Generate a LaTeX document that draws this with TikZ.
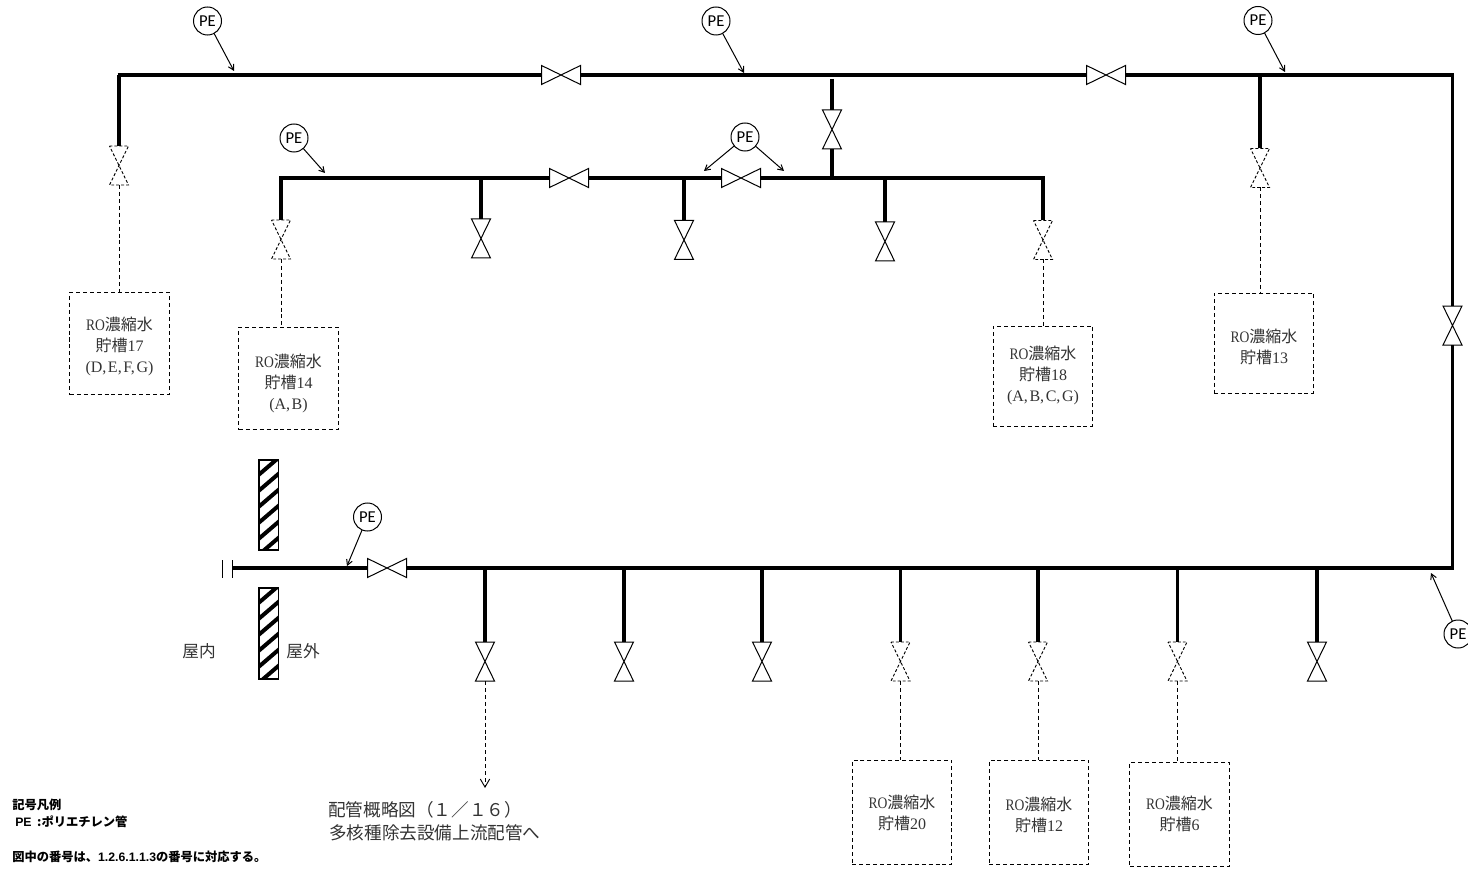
\documentclass[tikz,border=0pt]{standalone}
\usepackage{fontspec}
\usetikzlibrary{arrows.meta}
\setmainfont{Noto Sans CJK JP}
\newfontfamily\serf{Liberation Serif}
\newfontfamily\pefont{Carlito}
\newfontfamily\lat{Liberation Sans}
\definecolor{txt}{gray}{0.2}
\tikzset{
  pipe/.style={line width=2.4pt,line cap=butt},
  hair/.style={line width=0.7pt,dash pattern=on 3pt off 2.2pt},
  thin line/.style={line width=0.75pt},
  vnode/.style={inner sep=0pt,outer sep=0pt,minimum width=14.25pt,minimum height=29.25pt},
  hnode/.style={inner sep=0pt,outer sep=0pt,minimum width=29.25pt,minimum height=14.25pt},
  valve/.style={line width=0.75pt,line join=miter},
  dvalve/.style={line width=0.7pt,dash pattern=on 2.2pt off 1.5pt},
  tank/.style={draw,line width=0.7pt,dash pattern=on 3pt off 2.2pt,inner sep=0pt,outer sep=0pt,
     minimum width=74.5pt},
  tanktext/.style={inner sep=0pt,outer sep=0pt,align=center,text=txt,font=\fontsize{12pt}{15.75pt}\selectfont},
  penode/.style={circle,draw,line width=0.75pt,inner sep=0pt,outer sep=0pt,minimum size=21pt,
     font=\pefont\fontsize{12.5pt}{13pt}\selectfont},
  lead/.style={line width=0.75pt,-{Straight Barb[length=4pt,width=4.5pt]}},
  lab/.style={inner sep=0pt,text=txt,font=\fontsize{13.2pt}{15pt}\selectfont},
  legend/.style={inner sep=0pt,anchor=west,font=\bfseries\fontsize{9.2pt}{11pt}\selectfont},
}
\newcommand\vvalve[4]{\node[vnode] (#1) at (#2,#3) {};
  \draw[#4] (#1.north west)--(#1.north east)--(#1.south west)--(#1.south east)--cycle;}
\newcommand\hvalve[4]{\node[hnode] (#1) at (#2,#3) {};
  \draw[#4] (#1.north west)--(#1.south west)--(#1.north east)--(#1.south east)--cycle;}
\newcommand\M[1]{{\serf #1}}
\newcommand\RO{\scalebox{0.85}[1]{\serf RO}}
\begin{document}
\begin{tikzpicture}[x=0.75pt,y=-0.75pt]
\useasboundingbox (0,0) rectangle (1468,870);
% junction and corner points
\coordinate (tl) at (119,75); \coordinate (tr) at (1452.5,75);
\coordinate (br) at (1452.5,568);
\coordinate (j832t) at (832,79); \coordinate (j832) at (832,178);
\coordinate (j1260) at (1260,75);
\coordinate (ml) at (281,178); \coordinate (mr) at (1043,178);
\coordinate (j481) at (481,178); \coordinate (j684) at (684,178); \coordinate (j885) at (885,178);
\coordinate (b485) at (485,568); \coordinate (b624) at (624,568); \coordinate (b762) at (762,568);
\coordinate (b900) at (900.5,568); \coordinate (b1038) at (1038,568); \coordinate (b1178) at (1177.5,568);
\coordinate (b1317) at (1317,568);
\coordinate (fl) at (232,568);
\coordinate (arrowend) at (485,788);
% valves
\hvalve{h1}{561}{75}{valve}
\hvalve{h2}{1106}{75}{valve}
\hvalve{h3}{569}{178}{valve}
\hvalve{h4}{741}{178}{valve}
\hvalve{h5}{387}{568}{valve}
\vvalve{v17}{119}{165.5}{dvalve}
\vvalve{v832}{832}{129.5}{valve}
\vvalve{v13}{1260}{168}{dvalve}
\vvalve{vr}{1452.5}{325.5}{valve}
\vvalve{v14}{281}{239.5}{dvalve}
\vvalve{v481}{481}{238.5}{valve}
\vvalve{v684}{684}{240}{valve}
\vvalve{v885}{885}{241.5}{valve}
\vvalve{v18}{1043}{240}{dvalve}
\vvalve{b1}{485}{661.5}{valve}
\vvalve{b2}{624}{661.5}{valve}
\vvalve{b3}{762}{661.5}{valve}
\vvalve{b4}{900.5}{661.5}{dvalve}
\vvalve{b5}{1038}{661.5}{dvalve}
\vvalve{b6}{1177.5}{661.5}{dvalve}
\vvalve{b7}{1317}{661.5}{valve}
% tanks
\node[tank,minimum height=77pt] (t17) at (119.5,343.5) {};
\node[tank,minimum height=77pt] (t14) at (288.5,378.5) {};
\node[tank,minimum height=75pt] (t18) at (1043,376) {};
\node[tank,minimum height=75pt] (t13) at (1264,343) {};
\node[tank,minimum height=78.5pt] (t20) at (902,812.5) {};
\node[tank,minimum height=78.5pt] (t12) at (1039,812.5) {};
\node[tank,minimum height=78.5pt] (t6) at (1179.5,814.5) {};
\node[tanktext] (x17) at (119.5,346) {\RO 濃縮水\\貯槽\M{17}\\\M{(D,\kern1.2pt E,\kern1.2pt F,\kern1.2pt G)}};
\node[tanktext] (x14) at (288.5,383) {\RO 濃縮水\\貯槽\M{14}\\\M{(A,\kern1.2pt B)}};
\node[tanktext] (x18) at (1043,375) {\RO 濃縮水\\貯槽\M{18}\\\M{(A,\kern1.2pt B,\kern1.2pt C,\kern1.2pt G)}};
\node[tanktext] (x13) at (1264,346.5) {\RO 濃縮水\\貯槽\M{13}};
\node[tanktext] (x20) at (902,813) {\RO 濃縮水\\貯槽\M{20}};
\node[tanktext] (x12) at (1039,814.5) {\RO 濃縮水\\貯槽\M{12}};
\node[tanktext] (x6) at (1179.5,813.5) {\RO 濃縮水\\貯槽\M{6}};
% main pipes
\draw[pipe] ([xshift=-1pt]tl) -- (h1.west);
\draw[pipe] (h1.east) -- (h2.west);
\draw[pipe,line join=miter] (h2.east) -- (tr) -- (vr.north);
\draw[pipe,line join=miter] (vr.south) -- (br) -- (h5.east);
\draw[pipe] (h5.west) -- (fl);
\draw[pipe] (tl) -- (v17.north);
\draw[pipe] (j832t) -- (v832.north);
\draw[pipe] (v832.south) -- (j832);
\draw[pipe] (j1260) -- (v13.north);
\draw[pipe,line join=miter] (v14.north) -- (ml) -- (h3.west);
\draw[pipe] (h3.east) -- (h4.west);
\draw[pipe,line join=miter] (h4.east) -- (mr) -- (v18.north);
\draw[pipe] (j481) -- (v481.north);
\draw[pipe] (j684) -- (v684.north);
\draw[pipe] (j885) -- (v885.north);
\draw[pipe] (b485) -- (b1.north);
\draw[pipe] (b624) -- (b2.north);
\draw[pipe] (b762) -- (b3.north);
\draw[pipe] (b900) -- (b4.north);
\draw[pipe] (b1038) -- (b5.north);
\draw[pipe] (b1178) -- (b6.north);
\draw[pipe] (b1317) -- (b7.north);
% dashed lines to tanks
\draw[hair] (v17.south) -- (t17.north -| v17.south);
\draw[hair] (v14.south) -- (t14.north -| v14.south);
\draw[hair] (v18.south) -- (t18.north -| v18.south);
\draw[hair] (v13.south) -- (t13.north -| v13.south);
\draw[hair] (b4.south) -- (t20.north -| b4.south);
\draw[hair] (b5.south) -- (t12.north -| b5.south);
\draw[hair] (b6.south) -- (t6.north -| b6.south);
\draw[hair,-{Straight Barb[length=6pt,width=7pt]}] (b1.south) -- (arrowend);
% flange
\coordinate (fa) at (222,560); \coordinate (fb) at (222,578);
\coordinate (fc) at (232,560); \coordinate (fd) at (232,578);
\draw[thin line] (fa) -- (fb);
\draw[thin line] (fc) -- (fd);
% walls
\foreach \ya/\yb in {460/550,588/679}{
  \begin{scope}
    \clip (259,\ya) rectangle (278.5,\yb);
    \foreach \k in {-2,...,8}{
      \draw[line width=3pt] (255,\ya+\k*16+18) -- (283,\ya+\k*16-6);
    }
  \end{scope}
  \draw[line width=0.9pt] (259,\ya) rectangle (278.5,\yb);
}
% PE labels
\node[penode] (p1) at (207.5,21) {PE};
\node[penode] (p2) at (716,21) {PE};
\node[penode] (p3) at (1258,20.5) {PE};
\node[penode] (p4) at (294,138) {PE};
\node[penode] (p5) at (745,137) {PE};
\node[penode] (p6) at (367.5,517) {PE};
\node[penode] (p7) at (1458,634) {PE};
\coordinate (e1) at (234,71); \coordinate (e2) at (744,73); \coordinate (e3) at (1285,72);
\coordinate (e4) at (325,173); \coordinate (e5) at (704,171); \coordinate (e6) at (784,171);
\coordinate (e7) at (347,566); \coordinate (e8) at (1431,573);
\draw[lead] (p1) -- (e1);
\draw[lead] (p2) -- (e2);
\draw[lead] (p3) -- (e3);
\draw[lead] (p4) -- (e4);
\draw[lead] (p5) -- (e5);
\draw[lead] (p5) -- (e6);
\draw[lead] (p6) -- (e7);
\draw[lead] (p7) -- (e8);
% labels
\node[lab,font=\fontsize{12.5pt}{14pt}\selectfont] (n1) at (199,651) {屋内};
\node[lab,font=\fontsize{12.5pt}{14pt}\selectfont] (n2) at (303,651) {屋外};
\node[lab,anchor=west] (n3) at (328,810) {配管概略図（１／１６）};
\node[lab,anchor=west] (n4) at (329,833) {多核種除去設備上流配管へ};
\node[legend] (l1) at (12,805) {記号凡例};
\node[legend] (l2) at (15,822) {{\lat\bfseries PE} \ :ポリエチレン管};
\node[legend] (l3) at (12,857) {図中の番号は、{\lat\bfseries 1.2.6.1.1.3}の番号に対応する。};
\end{tikzpicture}
\end{document}
